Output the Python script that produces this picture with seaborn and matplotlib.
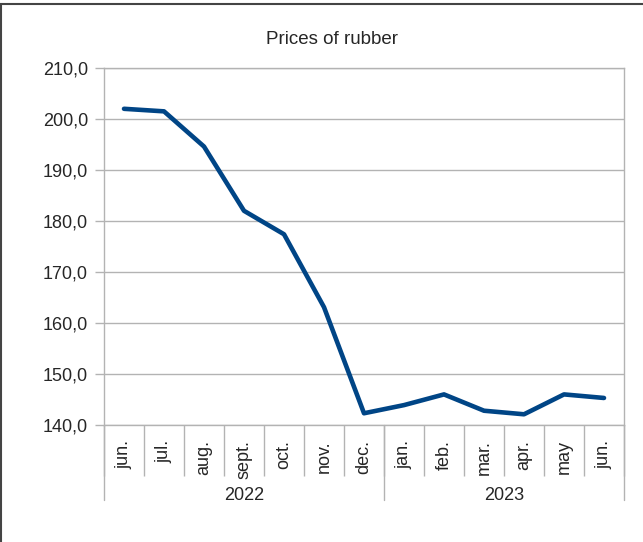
import numpy as np
import pandas as pd
import matplotlib.pyplot as plt
import seaborn as sns
from matplotlib.lines import Line2D
from matplotlib.ticker import FuncFormatter

# data
months = ['jun.', 'jul.', 'aug.', 'sept.', 'oct.', 'nov.', 'dec.',
          'jan.', 'feb.', 'mar.', 'apr.', 'may', 'jun.']
years = ['2022', '2023']
months_per_year = [7, 6]
prices = [202.0, 201.5, 194.6, 182.0, 177.4, 163.1, 142.3,
          143.9, 146.0, 142.8, 142.1, 146.0, 145.3]

df = pd.DataFrame({'pos': np.arange(len(prices)), 'price': prices})

sns.set_style('white')
plt.rcParams['font.family'] = ['Liberation Sans', 'DejaVu Sans']

fig = plt.figure(figsize=(6.43, 5.42), dpi=100)
ax = fig.add_axes([104 / 643, 1 - 425 / 542, 520 / 643, 357 / 542])

sns.lineplot(data=df, x='pos', y='price', color='#004586', linewidth=3.3, ax=ax)

grid_col = '#b3b3b3'
fs = 13
ax.set_xlim(-0.5, len(prices) - 0.5)
ax.set_ylim(140, 210)
ax.set_yticks(np.arange(140, 211, 10))
ax.yaxis.set_major_formatter(FuncFormatter(lambda v, p: f'{v:.1f}'.replace('.', ',')))
ax.yaxis.grid(True, color=grid_col, linewidth=1.0)
ax.set_axisbelow(True)
for s in ax.spines.values():
    s.set_color(grid_col)
    s.set_linewidth(1.0)

ax.tick_params(axis='y', direction='out', length=6.5, width=1, color=grid_col,
               labelsize=fs, pad=5, left=True)

# month labels at centres, separators at boundaries
ax.set_xticks(df['pos'])
ax.set_xticklabels(months, rotation=90, va='top', ha='center', fontsize=fs)
ax.tick_params(axis='x', which='major', length=0, pad=11)
ax.set_xticks(np.arange(len(prices) + 1) - 0.5, minor=True)
ax.tick_params(axis='x', which='minor', direction='out', length=37, width=1,
               color=grid_col, bottom=True)
ax.set_xlabel('')
ax.set_ylabel('')

# year grouping
trans = ax.get_xaxis_transform()
edges = np.concatenate([[0], np.cumsum(months_per_year)]) - 0.5
for e in edges:
    ax.add_line(Line2D([e, e], [0, -75 / 357], transform=trans, color=grid_col,
                       linewidth=1, clip_on=False))
for yr, a, b in zip(years, edges[:-1], edges[1:]):
    ax.text((a + b) / 2, -70 / 357, yr, transform=trans, ha='center', va='center',
            fontsize=fs)

fig.text(332.5 / 643, 1 - 39 / 542, 'Prices of rubber', ha='center', va='center',
         fontsize=13.5)

# outer frame of the chart
fig.add_artist(Line2D([0, 1], [1 - 4 / 542, 1 - 4 / 542], transform=fig.transFigure,
                      color='#444444', linewidth=1.5))
fig.add_artist(Line2D([0.5 / 643, 0.5 / 643], [0, 1 - 4 / 542], transform=fig.transFigure,
                      color='#444444', linewidth=1.5))

fig.savefig('out.png', dpi=100)
